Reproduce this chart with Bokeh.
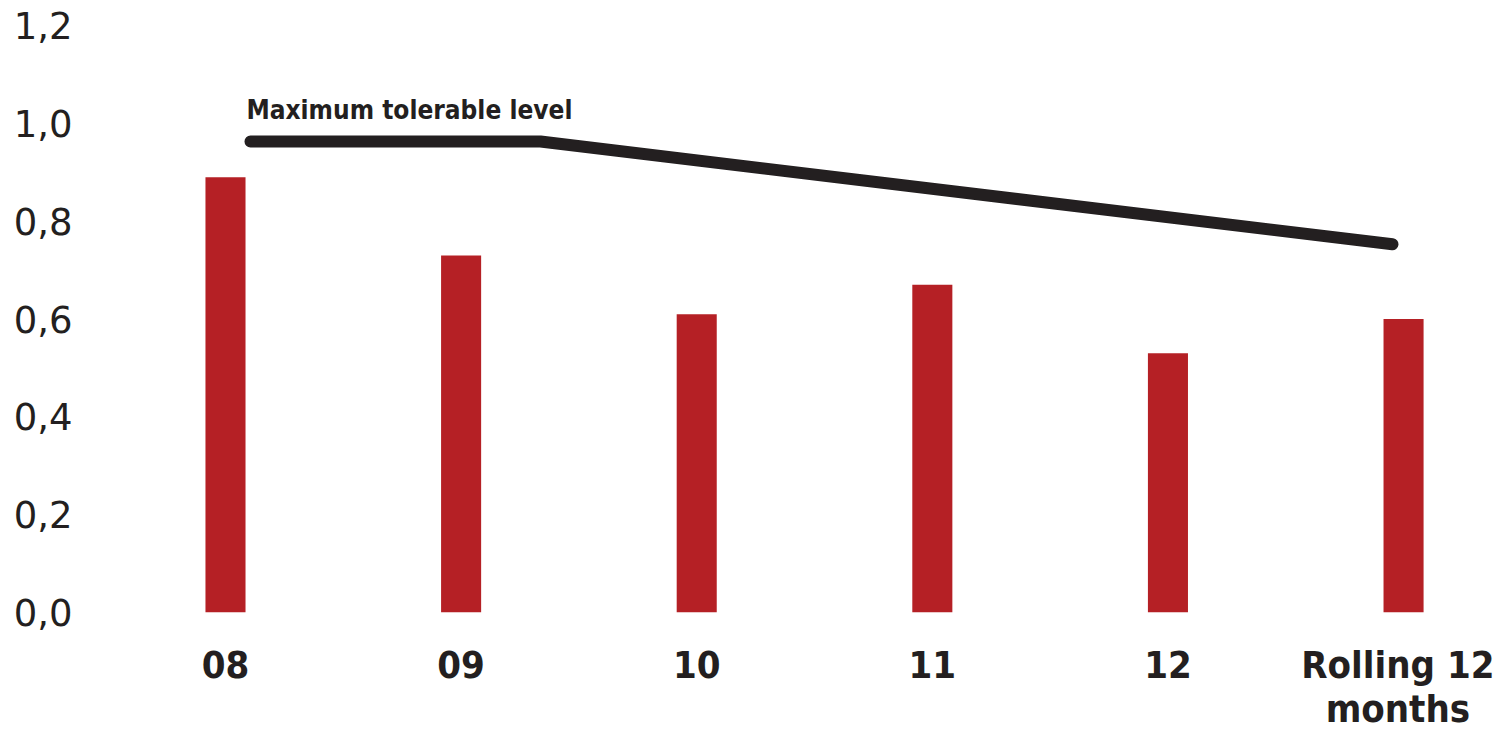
from bokeh.plotting import figure
from bokeh.models import ColumnDataSource, FixedTicker
from bokeh.core.properties import value
from bokeh.embed import file_html
from bokeh.resources import INLINE

categories = ["08", "09", "10", "11", "12", "Rolling 12\nmonths"]
values = [0.89, 0.73, 0.61, 0.67, 0.53, 0.60]
line_x = [0.106, 1.337, 4.953]
line_y = [0.963, 0.963, 0.753]
y_ticks = [0.0, 0.2, 0.4, 0.6, 0.8, 1.0, 1.2]
y_tick_labels = ["0,0", "0,2", "0,4", "0,6", "0,8", "1,0", "1,2"]
annotation = "Maximum tolerable level"

TEXT = "#231f20"
BAR = "#b52025"

xs = list(range(len(categories)))

p = figure(width=1494, height=733, output_backend="svg", toolbar_location=None,
           x_range=(-0.6154, 5.386), y_range=(0, 1.2515),
           min_border_left=80, min_border_right=0, min_border_top=0,
           min_border_bottom=121)
p.outline_line_color = None
p.xgrid.grid_line_color = None
p.ygrid.grid_line_color = None
p.background_fill_color = "white"
p.border_fill_color = "white"

src = ColumnDataSource(dict(x=xs, top=values))
p.vbar(x="x", top="top", width=0.17, bottom=0, source=src,
       fill_color=BAR, line_color=None)

p.line(line_x, line_y, line_width=12, line_color=TEXT, line_cap="round", line_join="round")

p.text(x=[line_x[0] - 0.017], y=[1.027], text=[annotation],
       text_font=value("DejaVu Sans Condensed"), text_font_style="bold",
       text_font_size="26px", text_color=TEXT, text_baseline="alphabetic",
       text_align="left")

p.yaxis.ticker = FixedTicker(ticks=y_ticks)
p.yaxis.major_label_overrides = {t: l for t, l in zip(y_ticks, y_tick_labels)}
p.yaxis.axis_line_color = None
p.yaxis.major_tick_line_color = None
p.yaxis.minor_tick_line_color = None
p.yaxis.major_label_text_font = "DejaVu Sans"
p.yaxis.major_label_text_font_size = "37px"
p.yaxis.major_label_text_color = TEXT
p.yaxis.major_label_standoff = 2

p.xaxis.ticker = FixedTicker(ticks=xs)
p.xaxis.major_label_overrides = {i: c for i, c in zip(xs, categories)}
p.xaxis.axis_line_color = None
p.xaxis.major_tick_line_color = None
p.xaxis.minor_tick_line_color = None
p.xaxis.major_label_text_font = "DejaVu Sans Condensed"
p.xaxis.major_label_text_font_style = "bold"
p.xaxis.major_label_text_font_size = "38px"
p.xaxis.major_label_text_line_height = 1.0
p.xaxis.major_label_text_color = TEXT
p.xaxis.major_label_standoff = 24

open("out.html", "w").write(file_html(p, INLINE))
